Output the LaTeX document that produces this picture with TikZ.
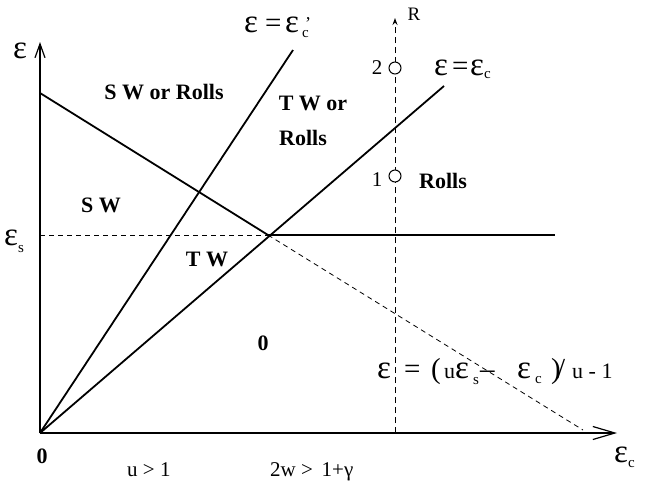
\documentclass[tikz,border=0pt]{standalone}
\usepackage{fontspec}
\setmainfont{Liberation Serif}
\usetikzlibrary{arrows.meta}
\newcommand{\pc}[2]{\makebox[#1pt][l]{#2}}
\newcommand{\lowsub}[2]{\raisebox{-#1pt}{\fontsize{15}{17}\selectfont #2}}
\newcommand{\eq}{{\fontsize{29}{32}\selectfont =}}
\begin{document}
\begin{tikzpicture}[x=1pt,y=-1pt,
  solidline/.style={line width=1.8pt},
  thindash/.style={line width=0.8pt, dash pattern=on 5pt off 4pt},
  region/.style={font=\fontsize{22}{26}\selectfont\bfseries, inner sep=0pt},
  lbl/.style={font=\fontsize{21}{24}\selectfont, inner sep=0pt},
  eps/.style={font=\fontsize{33}{36}\selectfont, inner sep=0pt, anchor=base west},
  pt/.style={circle, draw, fill=white, line width=1pt, minimum size=12pt, inner sep=0pt}]
\useasboundingbox (0,0) rectangle (645,483);
% coordinates
\coordinate (O) at (40,433);
\coordinate (xend) at (617,433);
\coordinate (ytop) at (40,42);
\coordinate (A) at (40,93);
\coordinate (P) at (268,235);
\coordinate (S) at (40,235);
\coordinate (H) at (555,235);
\coordinate (D) at (583,430);
\coordinate (C1) at (444,86);
\coordinate (C2) at (293,50);
\coordinate (Rb) at (395,433);
\coordinate (Rt) at (395,18);
% axes
\draw[line width=1.5pt, -{Straight Barb[length=22pt,width=13pt,line width=1.2pt]}] (O) -- (xend);
\draw[line width=1.5pt, -{Straight Barb[length=14pt,width=10pt,line width=1.2pt]}] (O) -- (ytop);
% lines
\draw[solidline] (A) -- (P);
\draw[solidline] (P) -- (H);
\draw[solidline] (O) -- (C1);
\draw[solidline] (O) -- (C2);
\draw[thindash] (S) -- (P);
\draw[thindash] (P) -- (D);
\draw[line width=1pt, dash pattern=on 6pt off 4pt, -{Stealth[length=7pt,width=5pt]}] (Rb) -- (Rt);
% points
\node[pt] (p2) at (395,68) {};
\node[pt] (p1) at (395,176) {};
\node[lbl] (n2) at (377,68) {2};
\node[lbl] (n1) at (377,180) {1};
\node[lbl, font=\fontsize{19}{22}\selectfont] (R) at (414,14) {R};
% axis labels
\node[eps] (ey) at (13,58) {ε};
\node[eps] (es) at (4,245) {ε\lowsub{7}{s}};
\node[eps] (ec) at (614,462) {ε\lowsub{5}{c}};
% line labels
\node[eps] (l1) at (244,32) {\pc{21}{ε}\pc{20}{\eq}\pc{17}{ε}\rlap{\raisebox{3pt}{\fontsize{18}{20}\selectfont\hspace{3pt}’}}\lowsub{5}{c}};
\node[eps] (l2) at (434,75) {\pc{18}{ε}\pc{18}{\eq}ε\lowsub{3}{c}};
\node[eps] (l3) at (377,378) {\pc{27}{ε}\pc{27}{\eq}\pc{13}{\fontsize{29}{32}\selectfont (}\pc{11}{\fontsize{22}{24}\selectfont u}\pc{18}{ε}\pc{7}{\lowsub{6}{s}}\pc{37}{\fontsize{29}{32}\selectfont –}\pc{18}{ε}\pc{16}{\lowsub{5}{c}}\pc{6}{\fontsize{29}{32}\selectfont )}\pc{15}{\fontsize{29}{32}\selectfont /}{\fontsize{22}{24}\selectfont u - 1}};
% regions
\node[region] (r1) at (164,92) {S W or Rolls};
\node[region] (r2) at (313,103) {T W or};
\node[region] (r3) at (303,138) {Rolls};
\node[region] (r4) at (101,205) {S W};
\node[region] (r5) at (207,259) {T W};
\node[region] (r6) at (263,343) {0};
\node[region] (r7) at (443,181) {Rolls};
\node[region] (r8) at (42,456) {0};
\node[lbl, anchor=base west] (u) at (127,476) {u > 1};
\node[lbl, anchor=base west] (w) at (270,476) {2w >\ \,1+γ};
\end{tikzpicture}
\end{document}
